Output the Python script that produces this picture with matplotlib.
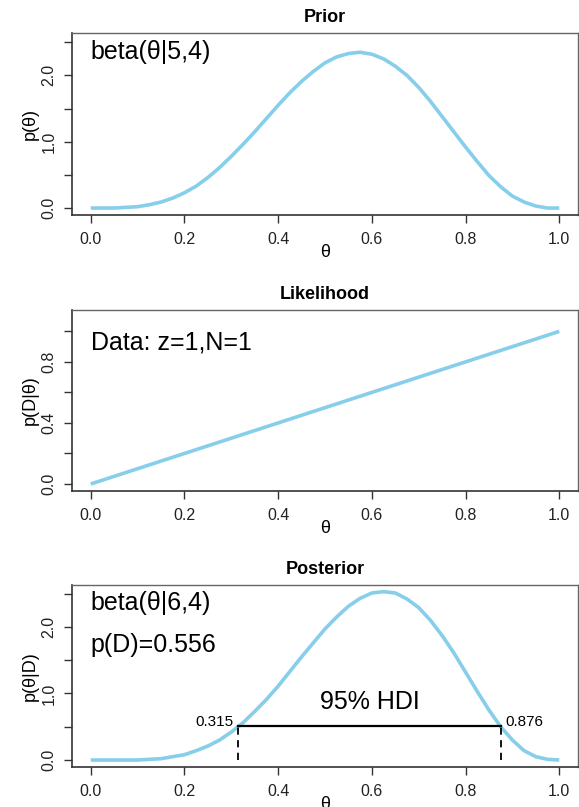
import matplotlib
matplotlib.use('Agg')
import matplotlib.pyplot as plt

plt.rcParams['font.family'] = ['Liberation Sans', 'DejaVu Sans']

# grid of theta values
theta = [0.0, 0.025, 0.05, 0.075, 0.1, 0.125, 0.15, 0.175, 0.2, 0.225, 0.25,
         0.275, 0.3, 0.325, 0.35, 0.375, 0.4, 0.425, 0.45, 0.475, 0.5,
         0.525, 0.55, 0.575, 0.6, 0.625, 0.65, 0.675, 0.7, 0.725, 0.75,
         0.775, 0.8, 0.825, 0.85, 0.875, 0.9, 0.925, 0.95, 0.975, 1.0]

prior = [0.00, 0.00, 0.00, 0.01, 0.02, 0.05, 0.09, 0.15, 0.23, 0.33, 0.46,
         0.61, 0.78, 0.96, 1.15, 1.35, 1.55, 1.74, 1.91, 2.06, 2.19,
         2.28, 2.33, 2.35, 2.32, 2.25, 2.14, 2.00, 1.82, 1.61, 1.38,
         1.15, 0.92, 0.70, 0.49, 0.32, 0.18, 0.09, 0.03, 0.00, 0.00]

posterior = [0.00, 0.00, 0.00, 0.00, 0.00, 0.01, 0.02, 0.05, 0.08, 0.14, 0.21,
             0.30, 0.42, 0.56, 0.73, 0.91, 1.11, 1.33, 1.55, 1.76, 1.97,
             2.15, 2.31, 2.43, 2.51, 2.53, 2.51, 2.42, 2.29, 2.10, 1.87,
             1.61, 1.32, 1.03, 0.75, 0.50, 0.30, 0.14, 0.05, 0.01, 0.00]

lik_theta = [0.0, 1.0]
likelihood = [0.0, 1.0]

hdi_low = 0.315
hdi_high = 0.876
hdi_height = 0.506

xticks = [0.0, 0.2, 0.4, 0.6, 0.8, 1.0]
dens_yticks = [0.0, 0.5, 1.0, 1.5, 2.0, 2.5]
dens_ylabels = ['0.0', '', '1.0', '', '2.0', '']
lik_yticks = [0.0, 0.2, 0.4, 0.6, 0.8, 1.0]
lik_ylabels = ['0.0', '', '0.4', '', '0.8', '']

curve_col = '#87CEEB'

fig = plt.figure(figsize=(5.79, 8.07), dpi=100)
W, H = 579.0, 807.0


def make_axes(top, bottom):
    return fig.add_axes([72 / W, 1 - bottom / H, 506 / W, (bottom - top) / H])


def style(ax, title, ylabel, yticks, ylabels, ylim):
    ax.set_xlim(-0.04, 1.04)
    ax.set_ylim(*ylim)
    ax.set_xticks(xticks)
    ax.set_xticklabels(['%.1f' % v for v in xticks])
    ax.set_yticks(yticks)
    ax.set_yticklabels(ylabels, rotation=90, va='center')
    ax.tick_params(axis='both', direction='out', length=6, width=1,
                   color='#333333', labelsize=11.5, labelcolor='#222222')
    ax.tick_params(axis='x', pad=6)
    ax.tick_params(axis='y', pad=5)
    for s in ['top', 'right']:
        ax.spines[s].set_color('#666666')
        ax.spines[s].set_linewidth(1.0)
    for s in ['left', 'bottom']:
        ax.spines[s].set_color('#333333')
        ax.spines[s].set_linewidth(1.2)
    ax.set_title(title, fontsize=13, fontweight='bold', pad=8)
    ax.set_xlabel('θ', fontsize=13)
    ax.xaxis.set_label_coords(0.5, -0.16)
    ax.set_ylabel(ylabel, fontsize=13)
    ax.yaxis.set_label_coords(-0.066, 0.5)


# Prior
ax1 = make_axes(33, 215)
ax1.plot(theta, prior, color=curve_col, lw=2.6, solid_capstyle='butt')
style(ax1, 'Prior', 'p(θ)', dens_yticks, dens_ylabels, (-0.105, 2.64))
ax1.text(0.0, 0.895, 'beta(θ|5,4)', transform=ax1.get_xaxis_transform(),
         fontsize=18, ha='left', va='center')

# Likelihood
ax2 = make_axes(310, 491)
ax2.plot(lik_theta, likelihood, color=curve_col, lw=2.6, solid_capstyle='butt')
style(ax2, 'Likelihood', 'p(D|θ)', lik_yticks, lik_ylabels, (-0.046, 1.14))
ax2.text(0.0, 0.818, 'Data: z=1,N=1', transform=ax2.get_xaxis_transform(),
         fontsize=18, ha='left', va='center')

# Posterior
ax3 = make_axes(585, 767)
ax3.plot(theta, posterior, color=curve_col, lw=2.6, solid_capstyle='butt')
style(ax3, 'Posterior', 'p(θ|D)', dens_yticks, dens_ylabels, (-0.105, 2.63))
ax3.text(0.0, 0.90, 'beta(θ|6,4)', transform=ax3.get_xaxis_transform(),
         fontsize=18, ha='left', va='center')
ax3.text(0.0, 0.67, 'p(D)=0.556', transform=ax3.get_xaxis_transform(),
         fontsize=18, ha='left', va='center')

ax3.plot([hdi_low, hdi_high], [hdi_height, hdi_height], color='black', lw=1.6)
ax3.plot([hdi_low, hdi_low], [0, hdi_height], color='black', lw=1.3, ls=(0, (4, 3)))
ax3.plot([hdi_high, hdi_high], [0, hdi_height], color='black', lw=1.3, ls=(0, (4, 3)))
ax3.text((hdi_low + hdi_high) / 2, 0.87, '95% HDI', fontsize=18,
         ha='center', va='center')
ax3.text(hdi_low - 0.01, hdi_height + 0.07, '%.3f' % hdi_low, fontsize=11,
         ha='right', va='center')
ax3.text(hdi_high + 0.01, hdi_height + 0.07, '%.3f' % hdi_high, fontsize=11,
         ha='left', va='center')

fig.savefig('out.png', dpi=100)
